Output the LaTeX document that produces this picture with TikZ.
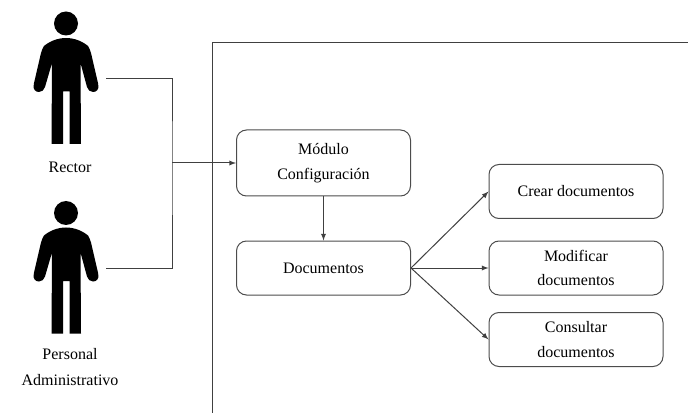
\documentclass[tikz,border=0pt]{standalone}
\usepackage{fontspec}
\setmainfont{Liberation Serif}
\usetikzlibrary{arrows}

\tikzset{
  linea/.style={draw=black!75, line width=.75pt},
  flecha/.style={linea, -latex},
  caja/.style={draw=black!70, line width=.75pt, rounded corners=7.5pt, inner sep=0pt,
    minimum width=130.5pt, align=center, font=\fontsize{12}{18.4}\selectfont},
  etiqueta/.style={inner sep=0pt, align=center, font=\fontsize{12}{19.6}\selectfont},
  persona/.pic={
    \fill (66,23.5) circle (12);
    \fill (66,38) .. controls (58,38) and (50,41) .. (44,46)
      .. controls (42.5,48) and (42,50) .. (41,53) -- (33.8,84)
      .. controls (32.5,90) and (36,92) .. (39,92) .. controls (42,92) and (44,90) .. (45,87)
      -- (52,63) -- (51.5,144) -- (63,144) -- (63,91.5) -- (69.5,91.5) -- (69.5,144)
      -- (81,144) -- (80.5,63) -- (87,87)
      .. controls (88,90) and (90,92) .. (93,92) .. controls (96,92) and (99.5,90) .. (98.2,84)
      -- (91,53) .. controls (90,50) and (89.5,48) .. (88,46)
      .. controls (82,41) and (74,38) .. (66,38) -- cycle;
  }
}

\begin{document}
\begin{tikzpicture}[x=.75pt, y=-.75pt]
    \useasboundingbox (0,0) rectangle (688,413);

    % actores
    \pic at (0,0) {persona};
    \pic at (0,189.5) {persona};
    \node[etiqueta] (rector) at (70,167) {Rector};
    \node[etiqueta] (personal) at (70,367) {Personal\\Administrativo};

    % sistema
    \draw[linea] (212.5,413) -- (212.5,42.5) -- (688,42.5);

    % modulos
    \node[caja, minimum height=49.5pt] (modulo) at (323.5,163) {Módulo\\Configuración};
    \node[caja, minimum height=40.5pt] (documentos) at (323.5,268) {Documentos};
    \node[caja, minimum height=40.5pt] (crear) at (576,191.5) {Crear documentos};
    \node[caja, minimum height=40.5pt] (modificar) at (576,268) {Modificar\\documentos};
    \node[caja, minimum height=40.5pt] (consultar) at (576,339.5) {Consultar\\documentos};

    % conexiones
    \coordinate (rectorfin) at (106,79);
    \coordinate (personalfin) at (106,268.5);
    \coordinate (union) at (172,163);
    \draw[linea] (rectorfin) -| (union) |- (personalfin);
    \draw[flecha] (union) -- (modulo.west);
    \draw[flecha] (modulo) -- (documentos);
    \draw[flecha] (documentos.east) -- (crear.west);
    \draw[flecha] (documentos.east) -- (modificar.west);
    \draw[flecha] (documentos.east) -- (consultar.west);

\end{tikzpicture}
\end{document}
